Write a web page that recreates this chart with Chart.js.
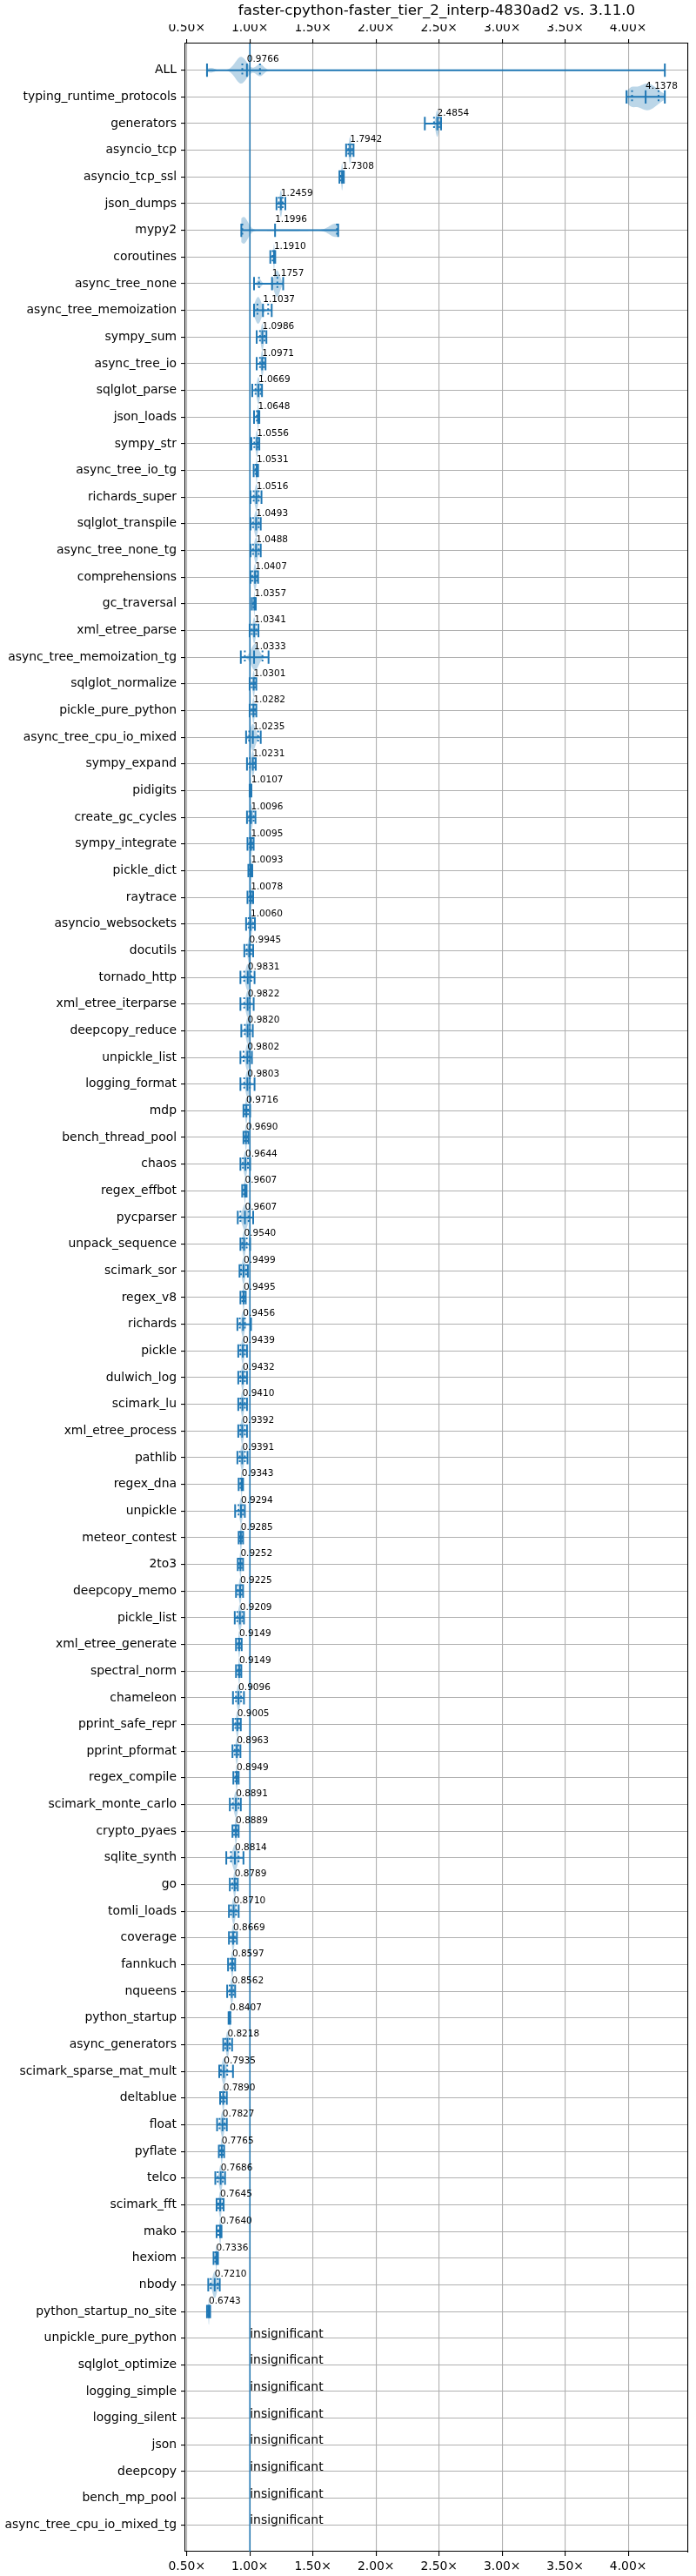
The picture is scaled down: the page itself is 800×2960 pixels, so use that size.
<!DOCTYPE html>
<html>
<head>
<meta charset="utf-8">
<script src="https://cdn.jsdelivr.net/npm/chart.js@4.4.1/dist/chart.umd.min.js"></script>
<style>
  html, body { margin: 0; padding: 0; background: #fff; }
  #wrap { width: 800px; height: 2960px; }
</style>
</head>
<body>
<div id="wrap"><canvas id="chart" width="800" height="2960"></canvas></div>
<script>
// benchmarks with a significant change, top to bottom
const significant = [
  'ALL', 'typing_runtime_protocols', 'generators', 'asyncio_tcp', 'asyncio_tcp_ssl',
  'json_dumps', 'mypy2', 'coroutines', 'async_tree_none', 'async_tree_memoization',
  'sympy_sum', 'async_tree_io', 'sqlglot_parse', 'json_loads', 'sympy_str',
  'async_tree_io_tg', 'richards_super', 'sqlglot_transpile', 'async_tree_none_tg', 'comprehensions',
  'gc_traversal', 'xml_etree_parse', 'async_tree_memoization_tg', 'sqlglot_normalize', 'pickle_pure_python',
  'async_tree_cpu_io_mixed', 'sympy_expand', 'pidigits', 'create_gc_cycles', 'sympy_integrate',
  'pickle_dict', 'raytrace', 'asyncio_websockets', 'docutils', 'tornado_http',
  'xml_etree_iterparse', 'deepcopy_reduce', 'unpickle_list', 'logging_format', 'mdp',
  'bench_thread_pool', 'chaos', 'regex_effbot', 'pycparser', 'unpack_sequence',
  'scimark_sor', 'regex_v8', 'richards', 'pickle', 'dulwich_log',
  'scimark_lu', 'xml_etree_process', 'pathlib', 'regex_dna', 'unpickle',
  'meteor_contest', '2to3', 'deepcopy_memo', 'pickle_list', 'xml_etree_generate',
  'spectral_norm', 'chameleon', 'pprint_safe_repr', 'pprint_pformat', 'regex_compile',
  'scimark_monte_carlo', 'crypto_pyaes', 'sqlite_synth', 'go', 'tomli_loads',
  'coverage', 'fannkuch', 'nqueens', 'python_startup', 'async_generators',
  'scimark_sparse_mat_mult', 'deltablue', 'float', 'pyflate', 'telco',
  'scimark_fft', 'mako', 'hexiom', 'nbody', 'python_startup_no_site'
];

const insignificant = [
  'unpickle_pure_python', 'sqlglot_optimize', 'logging_simple', 'logging_silent',
  'json', 'deepcopy', 'bench_mp_pool', 'async_tree_cpu_io_mixed_tg'
];

const categories = significant.concat(insignificant);

// median speedup (the printed label)
const medians = [
  0.9766, 4.1378, 2.4854, 1.7942, 1.7308, 1.2459, 1.1996, 1.1910, 1.1757, 1.1037,
  1.0986, 1.0971, 1.0669, 1.0648, 1.0556, 1.0531, 1.0516, 1.0493, 1.0488, 1.0407,
  1.0357, 1.0341, 1.0333, 1.0301, 1.0282, 1.0235, 1.0231, 1.0107, 1.0096, 1.0095,
  1.0093, 1.0078, 1.0060, 0.9945, 0.9831, 0.9822, 0.9820, 0.9802, 0.9803, 0.9716,
  0.9690, 0.9644, 0.9607, 0.9607, 0.9540, 0.9499, 0.9495, 0.9456, 0.9439, 0.9432,
  0.9410, 0.9392, 0.9391, 0.9343, 0.9294, 0.9285, 0.9252, 0.9225, 0.9209, 0.9149,
  0.9149, 0.9096, 0.9005, 0.8963, 0.8949, 0.8891, 0.8889, 0.8814, 0.8789, 0.8710,
  0.8669, 0.8597, 0.8562, 0.8407, 0.8218, 0.7935, 0.7890, 0.7827, 0.7765, 0.7686,
  0.7645, 0.7640, 0.7336, 0.7210, 0.6743
];

const mins = [
  0.660, 3.986, 2.387, 1.763, 1.710, 1.211, 0.932, 1.162, 1.033, 1.033,
  1.054, 1.054, 1.019, 1.033, 1.012, 1.030, 1.005, 1.005, 1.005, 1.005,
  1.016, 0.998, 0.928, 0.998, 0.998, 0.970, 0.977, 0.998, 0.977, 0.981,
  0.988, 0.981, 0.970, 0.956, 0.925, 0.925, 0.932, 0.925, 0.925, 0.949,
  0.949, 0.925, 0.939, 0.904, 0.925, 0.918, 0.925, 0.901, 0.908, 0.908,
  0.908, 0.908, 0.901, 0.911, 0.883, 0.911, 0.904, 0.890, 0.880, 0.890,
  0.890, 0.866, 0.866, 0.862, 0.869, 0.841, 0.862, 0.813, 0.841, 0.834,
  0.834, 0.827, 0.820, 0.831, 0.789, 0.757, 0.764, 0.740, 0.754, 0.726,
  0.736, 0.736, 0.712, 0.670, 0.660
];

const lowQ = [
  0.940, 4.030, 2.460, 1.780, 1.720, 1.230, 0.940, 1.180, 1.072, 1.060,
  1.080, 1.080, 1.045, 1.055, 1.035, 1.045, 1.030, 1.025, 1.025, 1.020,
  1.030, 1.015, 0.960, 1.015, 1.015, 0.995, 1.000, 1.005, 0.995, 1.000,
  1.000, 0.998, 0.990, 0.975, 0.955, 0.955, 0.960, 0.950, 0.955, 0.960,
  0.960, 0.945, 0.952, 0.925, 0.940, 0.930, 0.940, 0.920, 0.925, 0.925,
  0.925, 0.925, 0.920, 0.925, 0.910, 0.920, 0.915, 0.905, 0.900, 0.905,
  0.905, 0.890, 0.885, 0.880, 0.885, 0.865, 0.875, 0.850, 0.860, 0.850,
  0.850, 0.845, 0.840, 0.838, 0.805, 0.770, 0.775, 0.760, 0.765, 0.745,
  0.750, 0.750, 0.725, 0.690, 0.670
];

const highQ = [
  1.080, 4.240, 2.500, 1.810, 1.740, 1.260, 1.690, 1.195, 1.218, 1.145,
  1.115, 1.110, 1.085, 1.070, 1.065, 1.060, 1.070, 1.070, 1.070, 1.055,
  1.040, 1.050, 1.100, 1.040, 1.040, 1.065, 1.035, 1.011, 1.030, 1.020,
  1.015, 1.018, 1.025, 1.010, 1.010, 1.000, 1.000, 0.995, 1.000, 0.985,
  0.980, 0.985, 0.968, 0.990, 0.975, 0.970, 0.960, 0.960, 0.960, 0.960,
  0.960, 0.960, 0.960, 0.940, 0.945, 0.940, 0.935, 0.935, 0.940, 0.925,
  0.925, 0.930, 0.915, 0.910, 0.905, 0.910, 0.900, 0.910, 0.890, 0.890,
  0.880, 0.870, 0.870, 0.843, 0.840, 0.820, 0.800, 0.800, 0.785, 0.785,
  0.780, 0.770, 0.740, 0.745, 0.680
];

const maxs = [
  4.290, 4.290, 2.516, 1.822, 1.745, 1.281, 1.700, 1.201, 1.264, 1.173,
  1.131, 1.124, 1.096, 1.075, 1.075, 1.065, 1.092, 1.086, 1.086, 1.065,
  1.047, 1.068, 1.148, 1.051, 1.051, 1.086, 1.047, 1.012, 1.044, 1.030,
  1.019, 1.026, 1.040, 1.026, 1.037, 1.030, 1.023, 1.016, 1.037, 1.002,
  0.988, 1.002, 0.974, 1.026, 1.002, 0.984, 0.967, 1.009, 0.977, 0.977,
  0.977, 0.977, 0.981, 0.946, 0.960, 0.946, 0.946, 0.946, 0.953, 0.935,
  0.932, 0.953, 0.928, 0.925, 0.911, 0.928, 0.911, 0.949, 0.904, 0.911,
  0.897, 0.883, 0.883, 0.845, 0.859, 0.866, 0.817, 0.817, 0.796, 0.803,
  0.792, 0.775, 0.747, 0.761, 0.685
];

// density modes [centre, spread, weight] for the violins that are not single-peaked
const violinModes = {
  'ALL': [[0.93, 0.045, 1], [1.08, 0.03, 0.45], [0.69, 0.03, 0.18]],
  'typing_runtime_protocols': [[4.15, 0.08, 1], [4.02, 0.035, 0.45]],
  'mypy2': [[0.95, 0.035, 1], [1.68, 0.05, 0.5], [1.3, 0.15, 0.06]],
  'async_tree_none': [[1.215, 0.022, 1], [1.075, 0.015, 0.35]],
  'async_tree_memoization': [[1.065, 0.025, 1]],
  'async_tree_memoization_tg': [[1.04, 0.03, 1]]
};

const xTicks = [0.5, 1.0, 1.5, 2.0, 2.5, 3.0, 3.5, 4.0];

Chart.defaults.font.family = "'DejaVu Sans', sans-serif";
Chart.defaults.font.size = 13.9;
Chart.defaults.color = '#000';

const C0 = '#1f77b4';
const GRID = '#b0b0b0';
const X_MIN = 0.488;
const X_MAX = 4.475;
const Y_MAX = categories.length + 1;
const TITLE_H = 16.7 * 1.2 + 8;

const xAxis = (position, onChart, height) => ({
  type: 'linear',
  position,
  min: X_MIN,
  max: X_MAX,
  afterBuildTicks: (s) => { s.ticks = xTicks.map((v) => ({ value: v })); },
  afterFit: (s) => { s.height = height; },
  ticks: { callback: (v) => Number(v).toFixed(2) + '×', padding: 4, maxRotation: 0, autoSkip: false },
  grid: { drawOnChartArea: onChart, color: GRID, lineWidth: 1.1, tickColor: '#000', tickWidth: 1.1, tickLength: 5 },
  border: { display: true, color: '#000', width: 1.1 },
});

const violins = {
  id: 'violins',
  beforeDatasetsDraw(chart) {
    const { ctx, chartArea, scales: { x, y } } = chart;
    ctx.save();
    ctx.beginPath();
    ctx.rect(chartArea.left, chartArea.top, chartArea.width, chartArea.height);
    ctx.clip();

    significant.forEach((name, i) => {
      const pos = i + 1;
      const modes = violinModes[name] || [[medians[i], (highQ[i] - lowQ[i]) / 3.29, 1]];
      const pxLo = x.getPixelForValue(mins[i]);
      const pxHi = x.getPixelForValue(maxs[i]);
      const n = Math.max(4, Math.ceil((pxHi - pxLo) * 2));
      const vals = [];
      const dens = [];
      let dmax = 0;
      for (let k = 0; k <= n; k++) {
        const v = mins[i] + (maxs[i] - mins[i]) * k / n;
        let d = 0;
        modes.forEach(([c, s, w]) => { d += w * Math.exp(-0.5 * ((v - c) / s) ** 2); });
        vals.push(v);
        dens.push(d);
        dmax = Math.max(dmax, d);
      }
      ctx.fillStyle = 'rgba(31,119,180,0.3)';
      ctx.beginPath();
      for (let k = 0; k <= n; k++) {
        const px = x.getPixelForValue(vals[k]);
        const py = y.getPixelForValue(pos - 0.5 * dens[k] / dmax);
        if (k === 0) ctx.moveTo(px, py); else ctx.lineTo(px, py);
      }
      for (let k = n; k >= 0; k--) {
        ctx.lineTo(x.getPixelForValue(vals[k]), y.getPixelForValue(pos + 0.5 * dens[k] / dmax));
      }
      ctx.closePath();
      ctx.fill();

      ctx.strokeStyle = C0;
      ctx.lineWidth = 2;
      const yc = y.getPixelForValue(pos);
      const y0 = y.getPixelForValue(pos - 0.25);
      const y1 = y.getPixelForValue(pos + 0.25);
      ctx.setLineDash([]);
      ctx.beginPath();
      ctx.moveTo(pxLo, yc);
      ctx.lineTo(pxHi, yc);
      [mins[i], maxs[i], medians[i]].forEach((v) => {
        const px = x.getPixelForValue(v);
        ctx.moveTo(px, y0);
        ctx.lineTo(px, y1);
      });
      ctx.stroke();
      ctx.setLineDash([2, 3.3]);
      ctx.beginPath();
      [lowQ[i], highQ[i]].forEach((v) => {
        const px = x.getPixelForValue(v);
        ctx.moveTo(px, y0);
        ctx.lineTo(px, y1);
      });
      ctx.stroke();
    });
    ctx.restore();
  },
  afterDatasetsDraw(chart) {
    const { ctx, scales: { x, y } } = chart;
    ctx.save();
    ctx.fillStyle = '#000';
    ctx.textAlign = 'left';
    ctx.textBaseline = 'alphabetic';
    ctx.font = "10.5px 'DejaVu Sans'";
    significant.forEach((name, i) => {
      ctx.fillText(medians[i].toFixed(4), x.getPixelForValue(medians[i]), y.getPixelForValue(i + 1 - 0.3));
    });
    ctx.font = "13.9px 'DejaVu Sans'";
    insignificant.forEach((name, j) => {
      const pos = significant.length + j + 1;
      ctx.fillText('insignificant', x.getPixelForValue(1), y.getPixelForValue(pos) - 1);
    });
    ctx.restore();
  },
};

new Chart(document.getElementById('chart'), {
  type: 'scatter',
  data: {
    datasets: [{
      data: [{ x: 1, y: 0 }, { x: 1, y: Y_MAX }],
      showLine: true,
      borderColor: C0,
      borderWidth: 1.5,
      pointRadius: 0,
    }],
  },
  options: {
    responsive: false,
    animation: false,
    devicePixelRatio: 1,
    layout: { padding: { left: 0, right: 9, top: 0, bottom: 0 } },
    plugins: {
      legend: { display: false },
      tooltip: { enabled: false },
      title: {
        display: true,
        fullSize: false,
        text: 'faster-cpython-faster_tier_2_interp-4830ad2 vs. 3.11.0',
        color: '#000',
        font: { size: 16.7, weight: 'normal', lineHeight: 1.2 },
        padding: { top: 3, bottom: 5 },
      },
    },
    scales: {
      x: xAxis('bottom', true, 28),
      x2: xAxis('top', false, 50 - TITLE_H),
      y: {
        type: 'linear',
        reverse: true,
        min: 0,
        max: Y_MAX,
        afterBuildTicks: (s) => { s.ticks = categories.map((_, i) => ({ value: i + 1 })); },
        afterFit: (s) => { s.width = 213; },
        ticks: { callback: (v) => categories[v - 1], autoSkip: false, padding: 5 },
        grid: { color: GRID, lineWidth: 1.1, tickColor: '#000', tickWidth: 1.1, tickLength: 5 },
        border: { display: true, color: '#000', width: 1.1 },
      },
      y2: {
        type: 'linear',
        position: 'right',
        min: 0,
        max: Y_MAX,
        afterFit: (s) => { s.width = 0; },
        ticks: { display: false },
        grid: { drawOnChartArea: false, drawTicks: false },
        border: { display: true, color: '#000', width: 1.1 },
      },
    },
  },
  plugins: [violins],
});
</script>
</body>
</html>
